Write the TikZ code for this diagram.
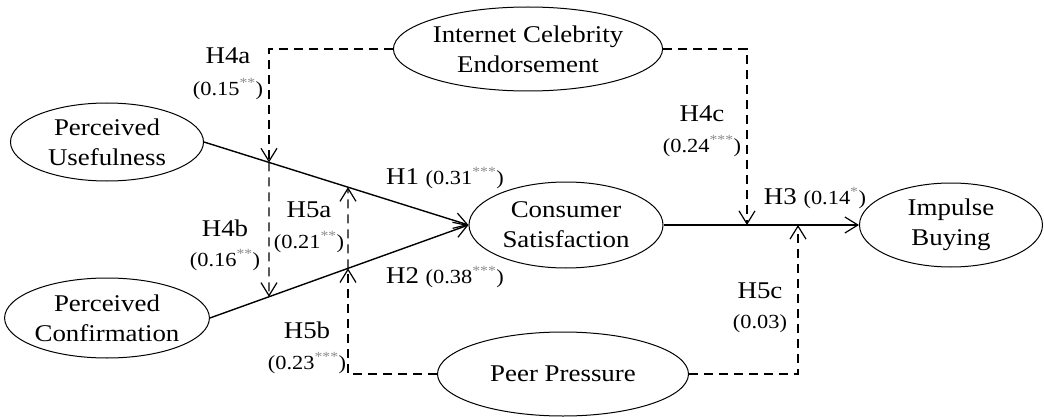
\documentclass[tikz,border=0pt]{standalone}
\usepackage{fontspec}
\setmainfont{Liberation Serif}[FakeStretch=1.12]
\usetikzlibrary{arrows.meta,shapes.geometric}
\definecolor{stargray}{RGB}{140,140,140}
\newcommand{\stars}[1]{\textsuperscript{\textcolor{stargray}{#1}}}
\newcommand{\sm}[1]{{\fontsize{20}{24}\selectfont #1}}
\begin{document}
\begin{tikzpicture}[x=1pt,y=-1pt,
  latent/.style={draw, ellipse, inner sep=0pt, line width=1pt,
    font=\fontsize{24}{30}\selectfont, align=center},
  tip/.style={-{Straight Barb[length=13pt,width=16pt,line width=1.2pt]}},
  solidpath/.style={line width=1.4pt, tip},
  modpath/.style={line width=1.2pt, dash pattern=on 9pt off 6pt, tip},
  modline/.style={line width=1.2pt, dash pattern=on 9pt off 6pt},
  hlab/.style={font=\fontsize{24}{28}\selectfont, inner sep=0pt, align=center}]
\useasboundingbox (0,0) rectangle (1044,417);

\node[latent, minimum width=251pt, minimum height=84pt] (ice) at (528,49) {Internet Celebrity\\Endorsement};
\node[latent, minimum width=193pt, minimum height=78pt] (pu) at (107,142) {Perceived\\Usefulness};
\node[latent, minimum width=193pt, minimum height=80pt] (pc) at (107,318) {Perceived\\Confirmation};
\node[latent, minimum width=194pt, minimum height=86pt] (cs) at (566,225) {Consumer\\Satisfaction};
\node[latent, minimum width=251pt, minimum height=84pt] (pp) at (563,374) {Peer Pressure};
\node[latent, minimum width=183pt, minimum height=84pt] (ib) at (951,225) {Impulse\\Buying};

% main paths
\draw[solidpath] (pu.east) -- (cs.west);
\draw[solidpath] (pc.east) -- (cs.west);
\draw[solidpath] (cs.east) -- (ib.west);

% intersection points
\coordinate (a1) at (intersection of pu.east--cs.west and 269,0--269,10);
\coordinate (a2) at (intersection of pc.east--cs.west and 269,0--269,10);
\coordinate (b1) at (intersection of pu.east--cs.west and 348,0--348,10);
\coordinate (b2) at (intersection of pc.east--cs.west and 348,0--348,10);
\coordinate (c1) at (747,225);
\coordinate (d1) at (798,225);

% moderators
\draw[modpath] (ice.west) -| (a1);
\draw[modpath] (a1) -- (a2);
\draw[modpath] (ice.east) -| (c1);
\draw[modpath] (pp.west) -| (b2);
\draw[modpath] (b2) -- (b1);
\draw[modpath] (pp.east) -| (d1);

% labels
\node[hlab] (l4a) at (228,56) {H4a};
\node[hlab] (v4a) at (228,89) {\sm{(0.15\stars{**})}};
\node[hlab] (l4b) at (225,228) {H4b};
\node[hlab] (v4b) at (225,260) {\sm{(0.16\stars{**})}};
\node[hlab] (l5a) at (309,210) {H5a};
\node[hlab] (v5a) at (309,242) {\sm{(0.21\stars{**})}};
\node[hlab] (l5b) at (307,330) {H5b};
\node[hlab] (v5b) at (307,363) {\sm{(0.23\stars{***})}};
\node[hlab] (l1) at (445,178) {H1 \sm{(0.31\stars{***})}};
\node[hlab] (l2) at (445,277) {H2 \sm{(0.38\stars{***})}};
\node[hlab] (l4c) at (702,114) {H4c};
\node[hlab] (v4c) at (702,146) {\sm{(0.24\stars{***})}};
\node[hlab] (l3) at (815,198) {H3 \sm{(0.14\stars{*})}};
\node[hlab] (l5c) at (760,291) {H5c};
\node[hlab] (v5c) at (760,324) {\sm{(0.03)}};
\end{tikzpicture}
\end{document}
